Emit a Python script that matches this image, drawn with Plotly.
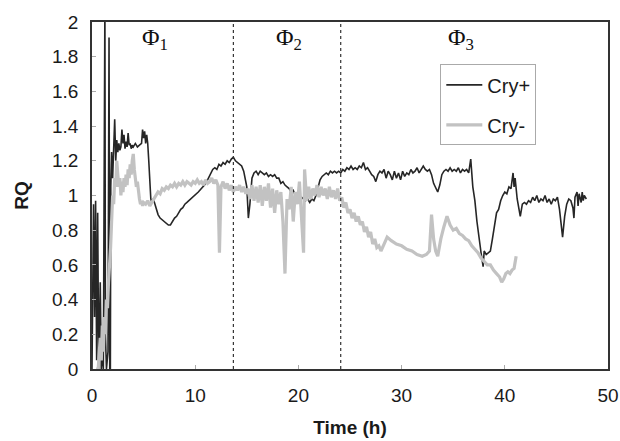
import plotly.graph_objects as go

# ---- data ----
cry_plus_t = [0.0, 0.15, 0.25, 0.35, 0.45, 0.55, 0.65, 0.8, 0.9, 1.0, 1.1, 1.25, 1.3, 1.4, 1.55, 1.65, 1.72, 1.78, 1.82, 1.9,
              2.0, 2.1, 2.2, 2.3, 2.4, 2.5, 2.6, 2.7, 2.8, 2.9, 3.0, 3.1, 3.2, 3.3, 3.4, 3.5, 3.6, 3.7, 3.8, 3.9,
              4.0, 4.2, 4.4, 4.6, 4.8, 4.9, 5.0, 5.1, 5.2, 5.3, 5.4, 5.5, 5.6, 5.7, 5.8, 5.9, 6.0, 6.2, 6.4, 6.6,
              6.8, 7.0, 7.2, 7.4, 7.6, 7.8, 8.0, 8.2, 8.4, 8.6, 8.8, 9.0, 9.2, 9.4, 9.6, 9.8, 10.0, 10.3, 10.6, 10.9,
              11.2, 11.5, 11.7, 11.9, 12.1, 12.3, 12.5, 12.7, 12.9, 13.1, 13.3, 13.5, 13.7, 13.9, 14.1, 14.3, 14.5, 14.7, 14.9, 15.0,
              15.15, 15.3, 15.5, 15.7, 15.9, 16.1, 16.3, 16.5, 16.7, 16.9, 17.1, 17.3, 17.5, 17.7, 17.9, 18.1, 18.3, 18.5, 18.7, 18.9,
              19.1, 19.3, 19.5, 19.7, 19.9, 20.1, 20.3, 20.5, 20.7, 20.9, 21.1, 21.3, 21.5, 21.7, 21.9, 22.1, 22.3, 22.5, 22.7, 22.9,
              23.1, 23.3, 23.5, 23.7, 23.9, 24.1, 24.3, 24.5, 24.7, 24.9, 25.1, 25.3, 25.5, 25.7, 25.9, 26.1, 26.3, 26.5, 26.7, 26.9,
              27.1, 27.3, 27.5, 27.7, 27.9, 28.1, 28.3, 28.5, 28.7, 28.9, 29.1, 29.3, 29.5, 29.7, 29.9, 30.1, 30.3, 30.5, 30.7, 30.9,
              31.1, 31.3, 31.5, 31.7, 31.9, 32.1, 32.3, 32.5, 32.7, 32.9, 33.1, 33.3, 33.5, 33.7, 33.9, 34.1, 34.3, 34.5, 34.7, 34.9,
              35.1, 35.3, 35.5, 35.7, 35.9, 36.1, 36.3, 36.5, 36.7, 36.9, 37.1, 37.3, 37.5, 37.7, 37.9, 38.0, 38.2, 38.4, 38.6, 38.8,
              39.0, 39.2, 39.4, 39.6, 39.8, 40.0, 40.2, 40.4, 40.6, 40.8, 40.9, 41.0, 41.2, 41.4, 41.5, 41.7, 41.9, 42.1, 42.3, 42.5,
              42.7, 42.9, 43.1, 43.3, 43.5, 43.7, 43.9, 44.1, 44.3, 44.5, 44.7, 44.9, 45.1, 45.3, 45.5, 45.6, 45.8, 46.0, 46.2, 46.4,
              46.6, 46.7, 46.8, 47.0, 47.1, 47.2, 47.4, 47.5, 47.6, 47.7, 47.9]
cry_plus_rq = [0.0, 0.95, 0.3, 0.97, 0.05, 0.9, 0.0, 0.5, 0.0, 0.1, 0.0, 2.1, 0.2, 0.0, 0.1, 1.91, 0.0, 0.0, 1.05, 1.25,
               1.1, 1.35, 1.44, 1.2, 1.32, 1.25, 1.3, 1.26, 1.28, 1.38, 1.3, 1.35, 1.27, 1.31, 1.28, 1.36, 1.29, 1.3, 1.27, 1.29,
               1.28, 1.3, 1.28, 1.29, 1.3, 1.38, 1.33, 1.37, 1.3, 1.35, 1.3, 1.2, 1.08, 0.98, 0.96, 0.98, 0.97, 0.93, 0.89, 0.87,
               0.86, 0.85, 0.84, 0.83, 0.83, 0.85, 0.87, 0.88, 0.9, 0.92, 0.93, 0.95, 0.96, 0.97, 0.98, 0.99, 1.0, 1.02, 1.04, 1.06,
               1.09, 1.13, 1.15, 1.16, 1.15, 1.18, 1.17, 1.19, 1.18, 1.2, 1.19, 1.21, 1.22, 1.2, 1.19, 1.18, 1.17, 1.14, 1.08, 1.05,
               0.87, 0.95, 1.1, 1.13, 1.14, 1.12, 1.14, 1.13, 1.12, 1.13, 1.11, 1.12, 1.11, 1.12, 1.1, 1.1, 1.07, 1.08, 1.06, 1.05,
               1.04, 1.02, 1.03, 1.0, 0.99, 1.01, 0.98, 0.99, 0.97, 0.98, 0.96, 0.98, 0.97, 1.0, 1.05, 1.09, 1.11, 1.12, 1.13, 1.12,
               1.14, 1.13, 1.14, 1.13, 1.14, 1.13, 1.15, 1.14, 1.16, 1.15, 1.17, 1.15, 1.16, 1.15, 1.17, 1.16, 1.19, 1.15, 1.16, 1.14,
               1.12, 1.11, 1.08, 1.12, 1.14, 1.13, 1.15, 1.1, 1.14, 1.12, 1.09, 1.14, 1.1, 1.13, 1.09, 1.14, 1.11, 1.13, 1.12, 1.15,
               1.13, 1.14, 1.16, 1.13, 1.15, 1.17, 1.15, 1.14, 1.15, 1.12, 1.07, 1.04, 1.02, 1.06, 1.12, 1.14, 1.15, 1.14, 1.16, 1.14,
               1.15, 1.14, 1.16, 1.13, 1.15, 1.14, 1.15, 1.13, 1.21, 1.05, 0.97, 0.85, 0.75, 0.67, 0.59, 0.68, 0.66, 0.67, 0.68, 0.75,
               0.82, 0.9, 0.92, 0.97, 1.0, 1.02, 1.01, 1.05, 1.04, 1.13, 1.05, 1.1, 0.98, 0.9, 0.88, 0.95, 0.96, 0.95, 0.97, 0.96,
               0.99, 0.97, 1.0, 0.96, 0.98, 0.97, 1.0, 0.96, 0.98, 0.95, 0.98, 0.97, 0.99, 0.92, 0.82, 0.76, 0.88, 0.95, 0.98, 0.97,
               0.93, 0.87, 0.99, 1.02, 0.94, 1.01, 0.96, 1.02, 0.97, 1.0, 0.98]

cry_minus_t = [0.4, 0.6, 0.8, 0.9, 1.0, 1.1, 1.2, 1.3, 1.4, 1.5, 1.6, 1.7, 1.8, 1.9, 2.0, 2.1, 2.2, 2.3, 2.4, 2.5,
               2.6, 2.7, 2.8, 2.9, 3.0, 3.1, 3.2, 3.3, 3.4, 3.5, 3.6, 3.7, 3.8, 3.9, 4.0, 4.1, 4.2, 4.3, 4.4, 4.5,
               4.6, 4.7, 4.8, 4.9, 5.0, 5.2, 5.4, 5.6, 5.8, 6.0, 6.2, 6.4, 6.6, 6.8, 7.0, 7.2, 7.4, 7.6, 7.8, 8.0,
               8.2, 8.4, 8.6, 8.8, 9.0, 9.2, 9.4, 9.6, 9.8, 10.0, 10.2, 10.4, 10.6, 10.8, 11.0, 11.2, 11.4, 11.6, 11.8, 12.0,
               12.2, 12.35, 12.5, 12.7, 12.9, 13.1, 13.3, 13.5, 13.7, 13.9, 14.1, 14.3, 14.5, 14.7, 14.9, 15.1, 15.3, 15.5, 15.7, 15.9,
               16.1, 16.3, 16.5, 16.7, 16.9, 17.1, 17.3, 17.5, 17.7, 17.9, 18.1, 18.3, 18.5, 18.7, 18.9, 19.1, 19.3, 19.5, 19.7, 19.9,
               20.1, 20.3, 20.5, 20.6, 20.8, 21.0, 21.2, 21.4, 21.6, 21.8, 22.0, 22.2, 22.4, 22.6, 22.8, 23.0, 23.2, 23.4, 23.6, 23.8,
               24.0, 24.2, 24.4, 24.6, 24.8, 25.0, 25.2, 25.4, 25.6, 25.8, 26.0, 26.2, 26.4, 26.6, 26.8, 27.0, 27.2, 27.4, 27.6, 27.8,
               28.0, 28.3, 28.6, 29.0, 29.5, 30.0, 30.5, 31.0, 31.5, 32.0, 32.4, 32.7, 32.9, 33.1, 33.3, 33.5, 33.8, 34.1, 34.4, 34.7,
               35.0, 35.3, 35.6, 35.9, 36.2, 36.5, 36.8, 37.1, 37.4, 37.7, 38.0, 38.3, 38.6, 38.9, 39.2, 39.5, 39.7, 39.9, 40.1, 40.3,
               40.5, 40.7, 40.9, 41.0, 41.1]
cry_minus_rq = [0.0, 0.0, 0.18, 0.05, 0.25, 0.1, 0.3, 0.2, 0.4, 0.35, 0.5, 0.58, 0.7, 0.85, 1.0, 0.95, 1.1, 1.05, 1.2, 1.12,
                1.05, 1.1, 1.0, 1.08, 1.02, 1.1, 1.05, 1.12, 1.06, 1.15, 1.1, 1.18, 1.12, 1.2, 1.24, 1.15, 1.1, 1.05, 1.08, 1.0,
                0.98, 0.95, 0.97, 0.94, 0.96, 0.95, 0.97, 0.94, 0.96, 0.98, 1.0, 1.02, 1.01, 1.04, 1.03, 1.05, 1.04, 1.06, 1.05, 1.07,
                1.05, 1.07, 1.06, 1.08, 1.06, 1.08, 1.07, 1.06, 1.08, 1.07, 1.09, 1.07, 1.08, 1.06, 1.09, 1.07, 1.08, 1.1, 1.07, 1.09,
                1.06, 0.67, 1.05, 1.08, 1.04, 1.07, 1.03, 1.06, 1.02, 1.05, 1.03, 1.06, 1.02, 1.05, 1.01, 1.04, 0.98, 1.06, 0.97, 1.05,
                0.96, 1.06, 0.94, 1.05, 0.97, 1.07, 0.93, 1.04, 0.9, 1.03, 0.95, 1.02, 0.85, 0.55, 0.98, 0.92, 1.05, 0.85, 1.02, 0.95,
                1.08, 0.9, 0.67, 1.15, 0.97, 1.05, 0.98, 1.04, 1.0, 1.06, 0.99, 1.05, 1.0, 1.04, 0.98, 1.05, 0.99, 1.03, 0.98, 1.04,
                0.97, 0.99, 0.93, 0.96, 0.9, 0.92, 0.87, 0.9, 0.85, 0.88, 0.83, 0.85, 0.79, 0.82, 0.76, 0.79, 0.72, 0.75, 0.7, 0.71,
                0.68, 0.72, 0.76, 0.74, 0.72, 0.71, 0.69, 0.68, 0.66, 0.65, 0.66, 0.68, 0.89, 0.75, 0.68, 0.65, 0.75, 0.82, 0.88, 0.83,
                0.8, 0.81, 0.78, 0.77, 0.75, 0.74, 0.71, 0.69, 0.67, 0.64, 0.62, 0.6, 0.6, 0.57, 0.55, 0.53, 0.5, 0.52, 0.55, 0.56,
                0.55, 0.57, 0.58, 0.63, 0.65]

phase_boundaries = [13.7, 24.1]
phase_labels = ["Φ<sub>1</sub>", "Φ<sub>2</sub>", "Φ<sub>3</sub>"]
phase_label_x = [6.1, 19.1, 35.8]

x_ticks = [0, 10, 20, 30, 40, 50]
y_ticks = [0, 0.2, 0.4, 0.6, 0.8, 1, 1.2, 1.4, 1.6, 1.8, 2]
y_tick_text = ["0", "0.2", "0.4", "0.6", "0.8", "1", "1.2", "1.4", "1.6", "1.8", "2"]

fig = go.Figure()
fig.add_trace(go.Scatter(x=cry_plus_t, y=cry_plus_rq, mode="lines", name="Cry+",
                         line=dict(color="#262626", width=1.6), legendgroup="a"))
fig.add_trace(go.Scatter(x=cry_minus_t, y=cry_minus_rq, mode="lines", name="Cry-",
                         line=dict(color="#c2c2c2", width=3.2), legendgroup="b"))

for xb in phase_boundaries:
    fig.add_shape(type="line", x0=xb, x1=xb, y0=0, y1=2, xref="x", yref="y",
                  line=dict(color="#333333", width=1.2, dash="dot"))

for lab, xl in zip(phase_labels, phase_label_x):
    fig.add_annotation(x=xl, y=1.90, xref="x", yref="y", text=lab, showarrow=False,
                       font=dict(family="Liberation Serif, Times New Roman, serif", size=24, color="#111"))

fig.update_layout(
    width=620, height=441,
    margin=dict(l=92, r=12, t=22, b=72, autoexpand=False),
    paper_bgcolor="white", plot_bgcolor="white",
    font=dict(family="Liberation Sans, Arial, sans-serif", size=19, color="#1a1a1a"),
    showlegend=True,
    legend=dict(x=0.675, y=0.878, xanchor="left", yanchor="top",
                bgcolor="white", bordercolor="#aaaaaa", borderwidth=1,
                font=dict(size=20), tracegroupgap=11, itemwidth=36),
    xaxis=dict(range=[0, 50], tickvals=x_ticks, showgrid=False, zeroline=False, automargin=False,
               showline=True, linecolor="#333", linewidth=1.5, mirror=True,
               ticks="inside", ticklen=4, tickcolor="#aaa", ticklabelstandoff=8,
               title=dict(text="<b>Time (h)</b>", font=dict(size=19), standoff=16)),
    yaxis=dict(range=[0, 2], tickvals=y_ticks, ticktext=y_tick_text, showgrid=False, zeroline=False, automargin=False,
               showline=True, linecolor="#333", linewidth=1.5, mirror=True,
               ticks="inside", ticklen=4, tickcolor="#aaa", ticklabelstandoff=8,
               title=dict(text="<b>RQ</b>", font=dict(size=19), standoff=18)),
)

fig.write_html("out.html")
